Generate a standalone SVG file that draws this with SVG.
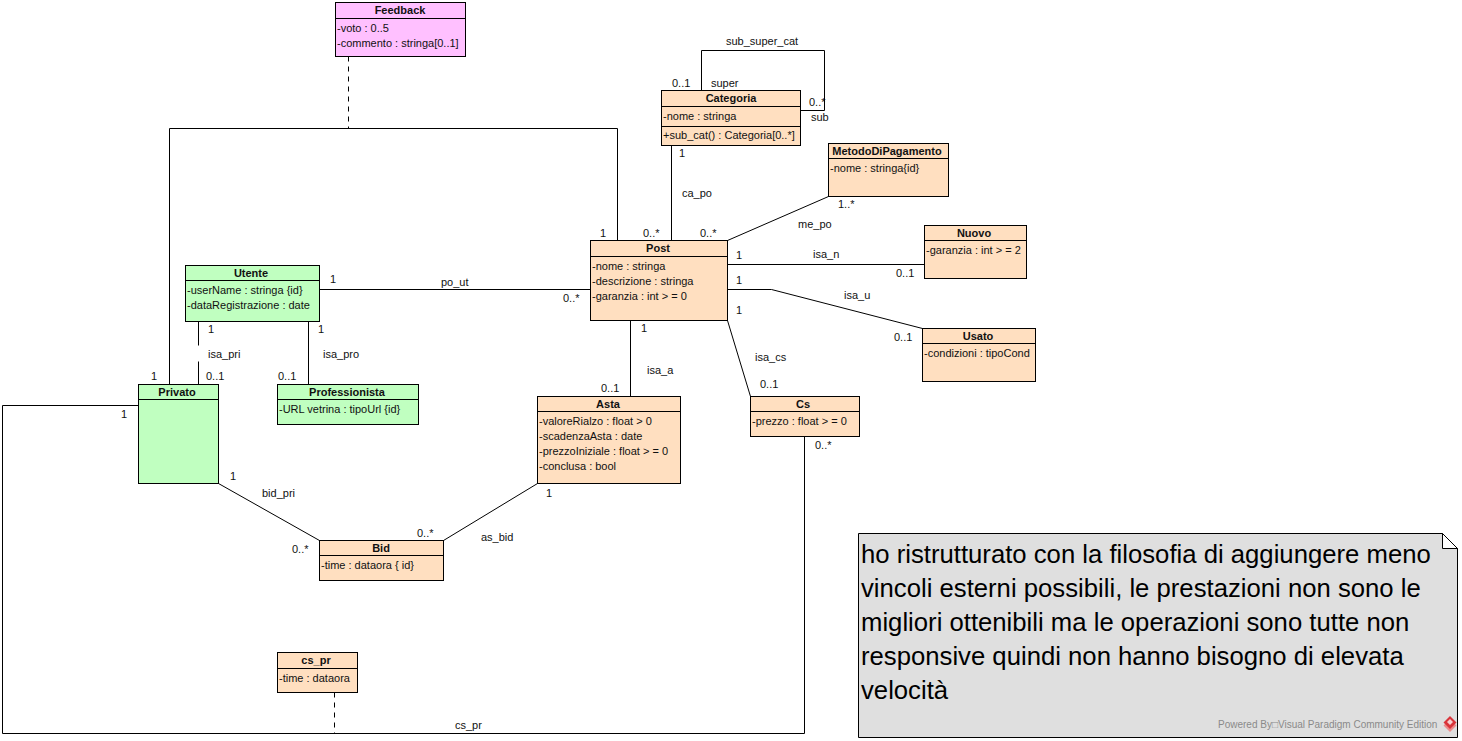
<svg xmlns="http://www.w3.org/2000/svg" width="1462" height="741" viewBox="0 0 1462 741">
<style>
text{font-family:"Liberation Sans",Arial,sans-serif;font-size:11px;fill:#111}
.h{font-weight:bold;text-anchor:middle}
.b{stroke:#000;stroke-width:1}
.p{fill:#ffdfc0}.g{fill:#c0ffc0}.k{fill:#ffc0ff}
.c{fill:none;stroke:#000;stroke-width:1}
.d{fill:none;stroke:#000;stroke-width:1;stroke-dasharray:5 5}
.n{font-size:25.7px;fill:#000}
.w{font-size:10px;fill:#8a8a8a}
</style>
<rect width="1462" height="741" fill="#fff"/>
<g id="labels">
<text x="726" y="45">sub_super_cat</text><text x="672" y="87">0..1</text><text x="711" y="87">super</text><text x="809" y="106">0..*</text><text x="811" y="121">sub</text>
<text x="679" y="157">1</text><text x="682" y="197">ca_po</text><text x="643" y="237">0..*</text>
<text x="838" y="208">1..*</text><text x="798" y="228">me_po</text><text x="700" y="237">0..*</text>
<text x="813" y="258">isa_n</text><text x="736" y="259">1</text><text x="896" y="277">0..1</text>
<text x="736" y="284">1</text><text x="844" y="299">isa_u</text><text x="894" y="341">0..1</text>
<text x="736" y="314">1</text><text x="755" y="361">isa_cs</text><text x="760" y="388">0..1</text>
<text x="641" y="332">1</text><text x="647" y="374">isa_a</text><text x="601" y="392">0..1</text>
<text x="330" y="283">1</text><text x="441" y="286">po_ut</text><text x="563" y="302">0..*</text>
<text x="208" y="333">1</text><text x="208" y="358">isa_pri</text><text x="206" y="380">0..1</text>
<text x="318" y="333">1</text><text x="323" y="358">isa_pro</text><text x="278" y="380">0..1</text>
<text x="600" y="237">1</text><text x="151" y="380">1</text><text x="121" y="418">1</text><text x="815" y="449">0..*</text><text x="455" y="729">cs_pr</text>
<text x="230" y="480">1</text><text x="262" y="497">bid_pri</text><text x="292" y="553">0..*</text>
<text x="546" y="497">1</text><text x="481" y="541">as_bid</text><text x="417" y="537">0..*</text>
</g>
<g id="connectors">
<path class="c" d="M701.5 90.5V50.5H824.5V110.5H800.5"/>
<path class="c" d="M671.5 145.5V240.5"/>
<path class="c" d="M727.5 240.5L828.5 196.5"/>
<path class="c" d="M727.5 264.5H924.5"/>
<path class="c" d="M727.5 289.5H771.5L922.5 328.5"/>
<path class="c" d="M727.5 320.5L750.5 396.5"/>
<path class="c" d="M630.5 320.5V396.5"/>
<path class="c" d="M319.5 289.5H590.5"/>
<path class="c" d="M198.5 321.5V345.5M198.5 361.5V384.5"/>
<path class="c" d="M308.5 321.5V384.5"/>
<path class="c" d="M169.5 384.5V128.5H617.5V240.5"/>
<path class="d" d="M348.5 56.5V128.5"/>
<path class="c" d="M138.5 405.5H2.5V733.5H804.5V436.5"/>
<path class="d" d="M334.5 692.5V733.5"/>
<path class="c" d="M218.5 483.5L319.5 540.5"/>
<path class="c" d="M443.5 540.5L537.5 483.5"/>
</g>
<g id="Feedback"><rect class="b k" x="335.5" y="2.5" width="130" height="54"/><path class="c" d="M335.5 18.5H465.5"/><text class="h" x="400" y="14">Feedback</text><text x="337" y="32">-voto : 0..5</text><text x="337" y="47">-commento : stringa[0..1]</text></g>
<g id="Categoria"><rect class="b p" x="661.5" y="90.5" width="139" height="55"/><path class="c" d="M661.5 106.5H800.5M661.5 126.5H800.5"/><text class="h" x="731" y="102">Categoria</text><text x="663" y="120">-nome : stringa</text><text x="663" y="139">+sub_cat() : Categoria[0..*]</text></g>
<g id="MetodoDiPagamento"><rect class="b p" x="828.5" y="143.5" width="120" height="53"/><path class="c" d="M828.5 158.5H948.5"/><text class="h" x="887" y="155">MetodoDiPagamento</text><text x="830" y="172">-nome : stringa{id}</text></g>
<g id="Post"><rect class="b p" x="590.5" y="240.5" width="137" height="80"/><path class="c" d="M590.5 256.5H727.5"/><text class="h" x="658" y="252">Post</text><text x="592" y="270">-nome : stringa</text><text x="592" y="285">-descrizione : stringa</text><text x="592" y="300">-garanzia : int &gt; = 0</text></g>
<g id="Nuovo"><rect class="b p" x="924.5" y="225.5" width="102" height="53"/><path class="c" d="M924.5 240.5H1026.5"/><text class="h" x="974" y="237">Nuovo</text><text x="926" y="254">-garanzia : int &gt; = 2</text></g>
<g id="Usato"><rect class="b p" x="922.5" y="328.5" width="113" height="53"/><path class="c" d="M922.5 343.5H1035.5"/><text class="h" x="978" y="340">Usato</text><text x="924" y="357">-condizioni : tipoCond</text></g>
<g id="Utente"><rect class="b g" x="185.5" y="265.5" width="134" height="56"/><path class="c" d="M185.5 280.5H319.5"/><text class="h" x="251" y="277">Utente</text><text x="187" y="294">-userName : stringa {id}</text><text x="187" y="309">-dataRegistrazione : date</text></g>
<g id="Privato"><rect class="b g" x="138.5" y="384.5" width="80" height="99"/><path class="c" d="M138.5 399.5H218.5"/><text class="h" x="177" y="396">Privato</text></g>
<g id="Professionista"><rect class="b g" x="277.5" y="384.5" width="141" height="40"/><path class="c" d="M277.5 399.5H418.5"/><text class="h" x="347" y="396">Professionista</text><text x="279" y="413">-URL vetrina : tipoUrl {id}</text></g>
<g id="Asta"><rect class="b p" x="537.5" y="396.5" width="143" height="87"/><path class="c" d="M537.5 411.5H680.5"/><text class="h" x="608" y="408">Asta</text><text x="539" y="425">-valoreRialzo : float &gt; 0</text><text x="539" y="440">-scadenzaAsta : date</text><text x="539" y="455">-prezzoIniziale : float &gt; = 0</text><text x="539" y="470">-conclusa : bool</text></g>
<g id="Cs"><rect class="b p" x="750.5" y="396.5" width="109" height="40"/><path class="c" d="M750.5 411.5H859.5"/><text class="h" x="803" y="408">Cs</text><text x="752" y="425">-prezzo : float &gt; = 0</text></g>
<g id="Bid"><rect class="b p" x="319.5" y="540.5" width="124" height="40"/><path class="c" d="M319.5 555.5H443.5"/><text class="h" x="381" y="552">Bid</text><text x="321" y="569">-time : dataora { id}</text></g>
<g id="cs_pr"><rect class="b p" x="277.5" y="652.5" width="80" height="40"/><path class="c" d="M277.5 668.5H357.5"/><text class="h" x="316" y="664">cs_pr</text><text x="279" y="682">-time : dataora</text></g>
<g id="Note">
<path d="M858.5 533.5H1442.5L1457.5 548.5V737.5H858.5Z" fill="#dfdfdf" stroke="#000"/>
<path d="M1442.5 533.5V548.5H1457.5Z" fill="#fff" stroke="#000"/>
<text class="n" x="861" y="563">ho ristrutturato con la filosofia di aggiungere meno</text>
<text class="n" x="861" y="597">vincoli esterni possibili, le prestazioni non sono le</text>
<text class="n" x="861" y="631">migliori ottenibili ma le operazioni sono tutte non</text>
<text class="n" x="861" y="665">responsive quindi non hanno bisogno di elevata</text>
<text class="n" x="861" y="699">velocità</text>
<text class="w" x="1218" y="728">Powered By□<tspan x="1278">Visual Paradigm Community Edition</tspan></text>
<path d="M1450 719L1456.5 725.500L1450 732L1443.500 725.500Z" fill="#ee8a8a"/>
<path d="M1450 716L1456.500 722.500L1450 729L1443.500 722.500Z" fill="#d9343a"/>
<path d="M1450 719L1453 722L1450 725L1447 722Z" fill="#f6d0d0"/>
</g>
</svg>
